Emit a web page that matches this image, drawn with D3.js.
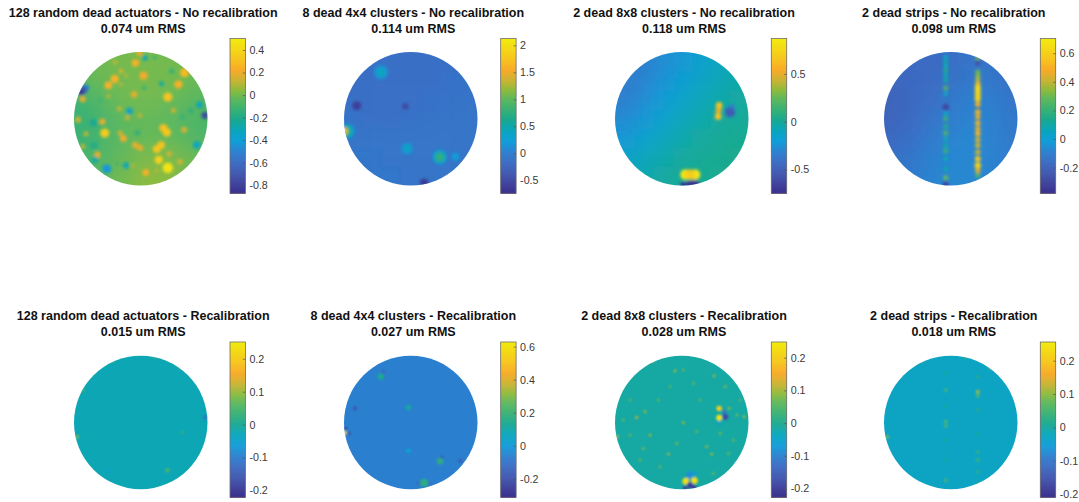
<!DOCTYPE html>
<html><head><meta charset="utf-8">
<script src="https://cdnjs.cloudflare.com/ajax/libs/d3/7.8.5/d3.min.js"></script>
<style>html,body{margin:0;background:#fff;overflow:hidden}svg{display:block}
text{font-family:"Liberation Sans",Arial,sans-serif}</style></head><body>
<script>
const titles=["128 random dead actuators - No recalibration","8 dead 4x4 clusters - No recalibration","2 dead 8x8 clusters - No recalibration","2 dead strips - No recalibration","128 random dead actuators - Recalibration","8 dead 4x4 clusters - Recalibration","2 dead 8x8 clusters - Recalibration","2 dead strips - Recalibration"];
const rms=["0.074 um RMS","0.114 um RMS","0.118 um RMS","0.098 um RMS","0.015 um RMS","0.027 um RMS","0.028 um RMS","0.018 um RMS"];
const limits=[[-0.871,0.502],[-0.74,2.126],[-0.749,0.871],[-0.38,0.703],[-0.221,0.251],[-0.312,0.628],[-0.227,0.248],[-0.21,0.256]];
const ticks=[[-0.8,-0.6,-0.4,-0.2,0,0.2,0.4],[-0.5,0,0.5,1,1.5,2],[-0.5,0,0.5],[-0.2,0,0.2,0.4,0.6],[-0.2,-0.1,0,0.1,0.2],[-0.2,0,0.2,0.4,0.6],[-0.2,-0.1,0,0.1,0.2],[-0.2,-0.1,0,0.1,0.2]];
const colorAt=[0,.065,.13,.2,.27,.34,.41,.48,.55,.615,.67,.73,.8,.88,1];
const colorStops=["#34288a","#3d3f9a","#3f56ae","#3b6ac2","#2c80cf","#0e9dd8","#08a6bb","#1aa98f","#3cb272","#60b85c","#8ebb3e","#c8b434","#f8ab28","#f6c81e","#f2ea10"];

// surface level on a coarse pupil grid, rows top to bottom
const level1=[[0,0,.01,.01,.01,0,-.01],[-.03,-.01,0,.01,.01,0,-.01],[-.11,-.05,0,.01,0,-.02,-.06],[-.13,-.09,-.04,-.02,-.03,-.05,-.08],[-.13,-.09,-.04,-.02,-.02,-.04,-.07],[-.09,-.07,-.02,.01,.03,.01,-.02],[-.05,-.03,0,.04,.05,.03,0]];
const level2=[[-.12,-.12,-.12,-.12,-.12,-.11,-.1],[-.13,-.13,-.12,-.12,-.11,-.1,-.09],[-.12,-.13,-.12,-.12,-.1,-.09,-.08],[-.09,-.11,-.11,-.1,-.09,-.08,-.07],[-.07,-.08,-.08,-.08,-.07,-.07,-.07],[-.06,-.06,-.07,-.07,-.07,-.07,-.07],[-.06,-.06,-.06,-.07,-.07,-.07,-.07]];
const level3=[[-.34,-.32,-.27,-.22,-.16,-.1,-.06],[-.34,-.3,-.24,-.18,-.12,-.07,-.03],[-.32,-.27,-.2,-.14,-.08,-.04,-.01],[-.28,-.22,-.15,-.09,-.04,-.01,.01],[-.22,-.16,-.1,-.05,-.01,.01,.02],[-.15,-.09,-.05,-.01,.01,.02,.03],[-.08,-.05,-.01,.01,.02,.03,.04]];
const level4=[[-.16,-.16,-.16,-.15,-.13,-.13,-.15],[-.18,-.17,-.16,-.14,-.12,-.11,-.14],[-.19,-.17,-.15,-.12,-.09,-.09,-.13],[-.19,-.16,-.13,-.1,-.08,-.08,-.12],[-.17,-.14,-.11,-.08,-.07,-.08,-.11],[-.15,-.12,-.09,-.07,-.07,-.08,-.1],[-.12,-.1,-.08,-.07,-.07,-.08,-.09]];
const level5=[[-.022]];
const level6=[[-.058]];
const level7=[[-.014]];
const level8=[[-.028]];

// local features: pupil x, pupil y, value, radius in actuators
const spots1=[[418,158,.2,1.5],[406,188,.25,1.8],[345,185,.1,1.2],[363,212,.15,1.2],[378,226,.1,1],[430,226,.22,2],[344,236,.25,2],[325,255,.25,1.8],[363,252,.1,1],[553,217,.28,2.2],[535,252,.25,2],[402,282,.2,1.5],[503,290,.32,2.2],[325,287,.12,1],[248,296,.2,1.5],[520,330,.15,1.2],[358,325,.12,1.2],[382,352,.12,1.2],[420,345,.1,1.2],[234,358,.12,1.5],[307,364,.2,1.5],[552,388,.15,1.5],[490,383,.3,2],[500,396,.33,2],[314,398,.35,2.2],[360,398,.15,1.3],[370,414,.22,1.6],[258,400,.12,1.2],[405,434,.2,1.5],[420,442,.2,1.5],[483,434,.32,1.9],[470,446,.33,1.9],[248,438,.12,1.2],[292,463,.2,1.6],[507,460,.15,1.3],[476,478,.38,2],[503,502,.47,2.5],[540,484,.15,1.3],[437,516,.25,1.6],[400,495,.1,1],[470,510,.1,1],[258,262,-.45,1.5],[250,268,-.65,2],[243,275,-.8,1.5],[435,173,-.3,1.3],[463,172,-.12,1],[515,212,-.15,1.2],[484,250,-.25,1.2],[432,262,-.15,1],[598,313,-.3,1.6],[572,332,-.15,1.3],[614,345,-.75,1.6],[388,332,-.35,1.6],[300,300,-.1,1.3],[280,367,-.22,1.8],[548,350,-.12,1.3],[412,397,-.15,1.3],[590,434,-.32,1.8],[282,435,-.18,1.8],[285,478,-.25,1.6],[320,505,-.42,2.2],[378,495,-.3,1.5],[350,490,-.1,1]];
const spots2=[[333,216,.15,3.5],[333,216,.4,2.2],[260,316,-.55,2.2],[406,318,-.45,1.6],[232,392,.35,3.5],[228,392,.7,2.5],[223,392,1.7,1.6],[411,444,.1,3],[411,444,.35,2],[509,470,.3,3.5],[509,470,.75,2.2],[556,468,.25,1.8],[462,536,.15,1],[462,546,-.6,2]];
const spots3=[[535,330,.5,1.5],[537,315,.65,1.6],[534,348,.65,1.6],[570,335,-.5,2.5],[575,318,-.35,1.2],[436,522,.85,2.5],[465,522,.85,2.5],[450,522,.7,2.5],[430,553,-.7,1.5],[450,552,-.7,1.8],[465,550,-.7,1.8]];
const spots4=[[407,170,.04,1.2],[407,185,.1,1.2],[407,198,.06,1.2],[407,210,.15,1.2],[407,225,.08,1.2],[407,240,.1,1.2],[407,263,.25,1.2],[407,280,.05,1.2],[407,320,-.28,1.6],[407,340,.05,1.2],[407,355,.2,1.2],[407,378,.15,1.2],[407,398,.25,1.2],[407,415,.08,1.2],[407,435,.1,1.2],[407,452,.2,1.2],[407,475,.08,1.2],[407,505,.1,1.2],[407,532,.3,1.2],[407,552,-.3,1.4],[503,175,.3,1.2],[503,187,-.25,1.4],[503,215,.3,1.2],[503,228,.35,1.2],[503,240,.4,1.2],[503,253,.55,1.3],[503,265,.64,1.5],[503,280,.62,1.5],[503,295,.62,1.5],[503,312,.5,1.3],[503,335,.52,1.3],[503,350,.45,1.3],[503,368,.52,1.3],[503,385,.45,1.3],[503,400,.52,1.3],[503,418,.42,1.3],[503,435,.42,1.3],[503,455,.42,1.3],[503,475,.58,1.4],[503,495,.62,1.5],[503,510,.45,1.3],[503,525,.25,1.2]];
const spots5=[[615,352,-.12,1],[502,510,.06,1],[232,410,.1,.8],[540,200,.1,.8],[250,270,.05,.8],[545,397,.05,.6],[325,510,-.05,.7],[465,172,.06,.7],[340,183,.06,.7]];
const spots6=[[332,230,.14,1.5],[340,215,-.16,.8],[415,322,.12,1.3],[255,325,-.2,1],[226,385,-.3,.7],[224,398,.6,1],[237,400,-.18,1],[415,452,.03,1.2],[510,483,.18,1.5],[515,470,-.18,.8],[570,482,-.18,1],[462,548,.17,2],[445,548,-.15,.8],[480,550,-.13,.8]];
const spots7=[[405,213,.1,.7],[522,228,.1,.7],[340,183,.1,.7],[315,335,.1,.7],[290,352,.12,.7],[430,368,.1,.7],[385,462,.1,.7],[590,345,.08,.7],[612,350,.1,.7],[232,410,.12,.7],[270,405,.07,.7],[330,405,.1,.7],[410,430,.08,.7],[310,445,.08,.7],[515,462,.1,.7],[580,420,.07,.7],[565,460,.07,.7],[500,440,.09,.7],[360,500,.07,.7],[520,520,.07,.7],[300,480,.07,.7],[480,300,.07,.7],[430,210,.07,.7],[250,360,.07,.7],[355,300,.07,.7],[555,260,.08,.7],[460,250,.07,.7],[270,300,.07,.7],[600,300,.07,.7],[390,260,.06,.7],[540,400,.08,.7],[470,395,.07,.7],[538,368,-.06,1],[567,325,.08,.8],[553,335,-.12,1],[555,350,-.18,1.5],[537,325,.2,1.3],[537,353,.24,1.4],[450,525,-.08,2],[465,520,-.05,1],[437,543,.23,1.6],[463,541,.23,1.6],[450,555,-.2,1.5],[435,563,-.2,1],[462,562,-.2,1.2]];
const spots8=[[407,220,.02,.7],[407,270,.07,.8],[407,320,.02,.7],[407,365,.08,.8],[407,378,.08,.8],[407,420,.02,.7],[407,480,.02,.7],[407,540,.07,.8],[503,230,.03,.8],[503,275,.11,1],[503,287,.08,.8],[503,330,.03,.8],[503,400,.02,.7],[503,455,.05,.8],[503,480,.06,.8],[503,515,.04,.8],[503,550,.03,.7],[232,410,.1,.8],[337,185,.05,.7],[465,172,.05,.7],[540,203,.08,.7],[440,462,-.05,.6],[375,462,-.03,.6]];
const levels=[level1,level2,level3,level4,level5,level6,level7,level8];
const spots=[spots1,spots2,spots3,spots4,spots5,spots6,spots7,spots8];

const W=1079,H=502;
// layout: pupil box and colourbar of each panel
const pupilLeft=[74,344,615,884,74,344,615,884];
const barLeft=[230,500.7,771.3,1040.3,230,500.7,771.3,1040.3];
const titleCenter=[143.2,413.3,684,953.8,143.2,413.3,684,953.8];
const readX=[222,222,225,222,222,222,225,222];
const barW=15.4,pupilD=133.5,actuators=64;
const rowLayout=[{top:52,barTop:38.5,barBot:193.3,t1:17,t2:33},{top:355.7,barTop:342,barBot:497.3,t1:320,t2:336}];

const svg=d3.select("body").append("svg").attr("width",W).attr("height",H);
const defs=svg.append("defs");
[["wide",11],["softTop",1.7],["softBottom",1.1]].forEach(([id,sd])=>
  defs.append("filter").attr("id",id).attr("x","-10%").attr("y","-10%").attr("width","120%").attr("height","120%").append("feGaussianBlur").attr("stdDeviation",sd));

titles.forEach((title,i)=>{
  const L=rowLayout[i<4?0:1],left=pupilLeft[i],top=L.top;
  const [lo,hi]=limits[i];
  const color=d3.scaleLinear().domain(colorAt.map(t=>lo+(hi-lo)*t)).range(colorStops).clamp(true);
  const rx=readX[i],ry=i<4?155:167;
  const x=d3.scaleLinear().domain([rx,rx+400]).range([left,left+pupilD]);
  const y=d3.scaleLinear().domain([ry,ry+400]).range([top,top+pupilD]);
  const cell=pupilD/actuators;
  const id="ap"+i;
  defs.append("clipPath").attr("id",id).append("circle").attr("cx",left+pupilD/2).attr("cy",top+pupilD/2).attr("r",pupilD/2);
  const g=svg.append("g").attr("clip-path",`url(#${id})`);

  const grid=levels[i],n=grid.length;
  const gx=d3.scaleBand().domain(d3.range(n)).range([left,left+pupilD]);
  const gy=d3.scaleBand().domain(d3.range(n)).range([top,top+pupilD]);
  const pad=40;
  g.append("g").attr("filter","url(#wide)").selectAll("rect")
   .data(grid.flatMap((row,r)=>row.map((v,c)=>({r,c,v})))).join("rect")
   .attr("x",d=>gx(d.c)-(d.c===0?pad:0))
   .attr("y",d=>gy(d.r)-(d.r===0?pad:0))
   .attr("width",d=>gx.bandwidth()+0.5+(d.c===0?pad:0)+(d.c===n-1?pad:0))
   .attr("height",d=>gy.bandwidth()+0.5+(d.r===0?pad:0)+(d.r===n-1?pad:0))
   .attr("fill",d=>color(d.v));
  g.append("g").attr("filter",i<4?"url(#softTop)":"url(#softBottom)").selectAll("circle")
   .data(spots[i]).join("circle")
   .attr("cx",d=>x(d[0])).attr("cy",d=>y(d[1])).attr("r",d=>d[3]*cell).attr("fill",d=>color(d[2]));

  // colourbar
  const by=d3.scaleLinear().domain([lo,hi]).range([L.barBot,L.barTop]);
  const bar=svg.append("g").attr("transform",`translate(${barLeft[i]},0)`);
  const steps=d3.range(155);
  const vAt=k=>lo+(hi-lo)*k/155;
  bar.selectAll("rect.lvl").data(steps).join("rect").attr("class","lvl")
    .attr("x",0).attr("width",barW)
    .attr("y",k=>by(vAt(k+1))).attr("height",k=>by(vAt(k))-by(vAt(k+1))+0.6)
    .attr("fill",k=>color(vAt(k+.5)));
  bar.append("rect").attr("width",barW).attr("y",L.barTop).attr("height",L.barBot-L.barTop).attr("fill","none").attr("stroke","#6e6e6e").attr("stroke-width",.8);
  const axis=d3.axisRight(by).tickValues(ticks[i]).tickSize(-2.5).tickPadding(4).tickFormat(d=>String(d));
  const ag=bar.append("g").attr("transform",`translate(${barW},0)`).call(axis);
  ag.select(".domain").remove();
  ag.selectAll("line").attr("stroke","#555").attr("stroke-width",.7);
  ag.selectAll("text").attr("font-family",'"Liberation Sans",Arial,sans-serif').attr("font-size",10.7).attr("fill","#3a3a3a");

  // titles
  const t=svg.append("g").attr("text-anchor","middle").attr("font-weight","bold").attr("font-size",12.5).attr("fill","#111");
  t.append("text").attr("x",titleCenter[i]).attr("y",L.t1).text(title);
  t.append("text").attr("x",titleCenter[i]).attr("y",L.t2).text(rms[i]);
});
</script></body></html>
